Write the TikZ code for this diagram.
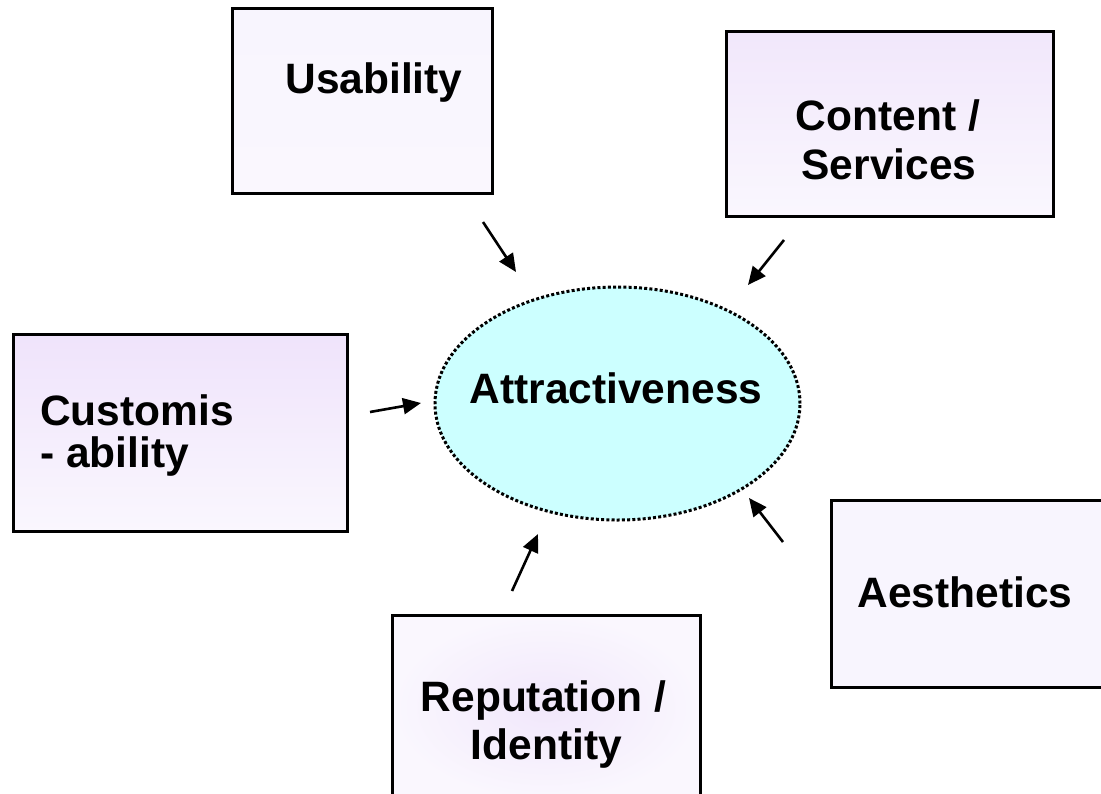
\documentclass[tikz,border=0pt]{standalone}
\usepackage{fontspec}
\setmainfont{Liberation Sans}
\usetikzlibrary{arrows.meta,shapes.geometric}
\definecolor{cyanfill}{HTML}{CCFFFF}
\definecolor{lavtop}{HTML}{EFE3FB}
\definecolor{lavbot}{HTML}{FAF7FE}
\definecolor{lavflat}{HTML}{F8F5FE}
\definecolor{lavmid}{HTML}{F1E7FB}
\tikzset{
  box/.style={draw=black, line width=3pt, inner sep=0pt, rectangle},
  lbl/.style={anchor=base, inner sep=0pt, font=\fontsize{42.5}{48}\selectfont\bfseries},
  lbll/.style={anchor=base west, inner sep=0pt, font=\fontsize{42.5}{48}\selectfont\bfseries},
  arr/.style={line width=2.6pt, -{Triangle[length=18pt,width=16pt]}},
}
\begin{document}
\begin{tikzpicture}[x=1pt,y=-1pt]
\useasboundingbox (0,0) rectangle (1101,793);
\fill[white] (0,0) rectangle (1101,793);

% boxes
\node[box, minimum width=260pt, minimum height=185pt, top color=lavflat, bottom color=lavbot] (usab) at (362,100.5) {};
\node[box, minimum width=327pt, minimum height=185pt, top color=lavmid, bottom color=lavbot] (cont) at (889.5,123.5) {};
\node[box, minimum width=334pt, minimum height=197pt, top color=lavtop, bottom color=lavbot] (cust) at (180,432.5) {};
\node[box, minimum width=308pt, minimum height=185pt, inner color=lavmid, outer color=lavbot] (repu) at (546,707.5) {};
\node[box, minimum width=280pt, minimum height=187pt, fill=lavflat] (aest) at (971,593.5) {};

% ellipse
\node[ellipse, draw=black, fill=cyanfill, line width=3pt, dash pattern=on 3pt off 2.2pt,
      minimum width=365pt, minimum height=233pt, inner sep=0pt] (attr) at (617.5,403.5) {};

% texts
\node[lbl] (tusab) at (374,93) {Usability};
\node[lbl] (tcont1) at (888,130) {Content /};
\node[lbl] (tcont2) at (889,179) {Services};
\node[lbll] (tcust1) at (40,425) {Customis};
\node[lbll] (tcust2) at (40,467) {- ability};
\node[lbl] (trepu1) at (543.5,711) {Reputation /};
\node[lbl] (trepu2) at (546.5,759) {Identity};
\node[lbl] (taest) at (965,607) {Aesthetics};
\node[lbl] (tattr) at (616,403) {Attractiveness};

% arrow endpoints
\coordinate (u1) at (483,222); \coordinate (u2) at (516,272);
\coordinate (c1) at (784,240); \coordinate (c2) at (748,285);
\coordinate (k1) at (370,412); \coordinate (k2) at (421,403);
\coordinate (r1) at (512,591); \coordinate (r2) at (538,534);
\coordinate (a1) at (783,542); \coordinate (a2) at (749,498);

\draw[arr] (u1) -- (u2);
\draw[arr] (c1) -- (c2);
\draw[arr] (k1) -- (k2);
\draw[arr] (r1) -- (r2);
\draw[arr] (a1) -- (a2);
\end{tikzpicture}
\end{document}
